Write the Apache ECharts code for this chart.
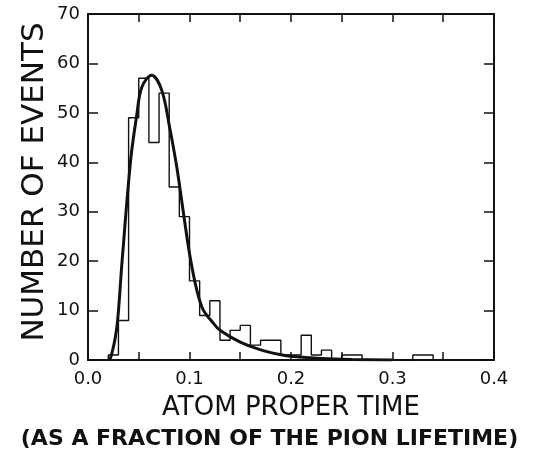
<!DOCTYPE html>
<html>
<head>
<meta charset="utf-8">
<script src="https://cdn.jsdelivr.net/npm/echarts@6/dist/echarts.min.js"></script>
<style>
html,body{margin:0;padding:0;background:#fff;}
#chart{width:539px;height:455px;}
</style>
</head>
<body>
<div id="chart"></div>
<script>
// Histogram bins (left edge, width 0.01) and event counts
const binStart = [0.02,0.03,0.04,0.05,0.06,0.07,0.08,0.09,0.10,0.11,0.12,0.13,0.14,0.15,0.16,0.17,0.18,0.19,0.20,0.21,0.22,0.23,0.24,0.25,0.26,0.27,0.28,0.29,0.30,0.31,0.32,0.33];
const binWidth = 0.01;
const counts = [1,8,49,57,44,54,35,29,16,9,12,4,6,7,3,4,4,1,1,5,1,2,0,1,1,0,0,0,0,0,1,1];

// Fitted curve (x, y)
const curveX = [0.020,0.022,0.0266,0.0293,0.0337,0.042,0.048,0.053,0.0627,0.0726,0.0805,0.0871,0.0911,0.0963,0.1009,0.1068,0.1134,0.1233,0.130,0.150,0.1695,0.189,0.202,0.23,0.26,0.30];
const curveY = [0,0.3,4.2,8.2,20.3,40.4,49.5,55.2,57.6,54.6,47.0,39.5,34.0,26.5,20.5,14.5,10.2,7.5,6.0,3.6,2.1,1.1,0.7,0.3,0.1,0];

const xTicks = ['0.0','0.1','0.2','0.3','0.4'];
const yTicks = [0,10,20,30,40,50,60,70];

const histData = [[binStart[0], 0]];
for (let i = 0; i < binStart.length; i++) {
  histData.push([+(binStart[i] + binWidth).toFixed(4), counts[i]]);
}
const last = binStart[binStart.length - 1] + binWidth;
histData.push([+last.toFixed(4), 0]);

const curveData = curveX.map((x, i) => [x, curveY[i]]);

const FONT = 'DejaVu Sans';
const chart = echarts.init(document.getElementById('chart'), null, {renderer: 'canvas'});
chart.setOption({
  backgroundColor: '#fff',
  animation: false,
  title: {
    text: '(AS A FRACTION OF THE PION LIFETIME)',
    left: 'center',
    top: 423,
    textStyle: {fontFamily: FONT, fontSize: 22, fontWeight: 'bold', color: '#111'}
  },
  grid: {left: 88, right: 45, top: 14, bottom: 95},
  xAxis: [{
    type: 'value', position: 'bottom', min: 0, max: 0.4, interval: 0.05,
    name: 'ATOM PROPER TIME', nameLocation: 'middle', nameGap: 35, nameMoveOverlap: false,
    nameTextStyle: {fontFamily: FONT, fontSize: 26, color: '#111'},
    axisLine: {show: true, onZero: false, lineStyle: {color: '#111', width: 2}},
    axisTick: {show: true, inside: true, length: 8, lineStyle: {color: '#111', width: 1.5}},
    axisLabel: {
      margin: 10, fontFamily: FONT, fontSize: 18, color: '#111',
      formatter: v => { const k = Math.round(v * 20); return k % 2 === 0 ? xTicks[k / 2] : ''; }
    },
    splitLine: {show: false}
  }, {
    type: 'value', position: 'top', min: 0, max: 0.4, interval: 0.05,
    axisLine: {show: true, onZero: false, lineStyle: {color: '#111', width: 2}},
    axisTick: {show: true, inside: true, length: 8, lineStyle: {color: '#111', width: 1.5}},
    axisLabel: {show: false},
    splitLine: {show: false}
  }],
  yAxis: [{
    type: 'value', position: 'left', min: 0, max: 70, interval: 10,
    name: 'NUMBER OF EVENTS', nameLocation: 'middle', nameGap: 38, nameRotate: 90, nameMoveOverlap: false,
    nameTextStyle: {fontFamily: FONT, fontSize: 31, color: '#111', padding: [0, 0, 0, 10]},
    axisLine: {show: true, onZero: false, lineStyle: {color: '#111', width: 2}},
    axisTick: {show: true, inside: true, length: 10, lineStyle: {color: '#111', width: 1.5}},
    axisLabel: {margin: 8, fontFamily: FONT, fontSize: 18, color: '#111',
      formatter: v => String(yTicks[Math.round(v / 10)])},
    splitLine: {show: false}
  }, {
    type: 'value', position: 'right', min: 0, max: 70, interval: 10,
    axisLine: {show: true, onZero: false, lineStyle: {color: '#111', width: 2}},
    axisTick: {show: true, inside: true, length: 10, lineStyle: {color: '#111', width: 1.5}},
    axisLabel: {show: false},
    splitLine: {show: false}
  }],
  series: [{
    type: 'line', step: 'start', data: histData, xAxisIndex: 0, yAxisIndex: 0,
    symbol: 'none', lineStyle: {color: '#111', width: 1.4}, z: 2
  }, {
    type: 'line', smooth: 0.35, data: curveData, xAxisIndex: 0, yAxisIndex: 0,
    symbol: 'none', lineStyle: {color: '#111', width: 3}, z: 3
  }]
});
</script>
</body>
</html>
